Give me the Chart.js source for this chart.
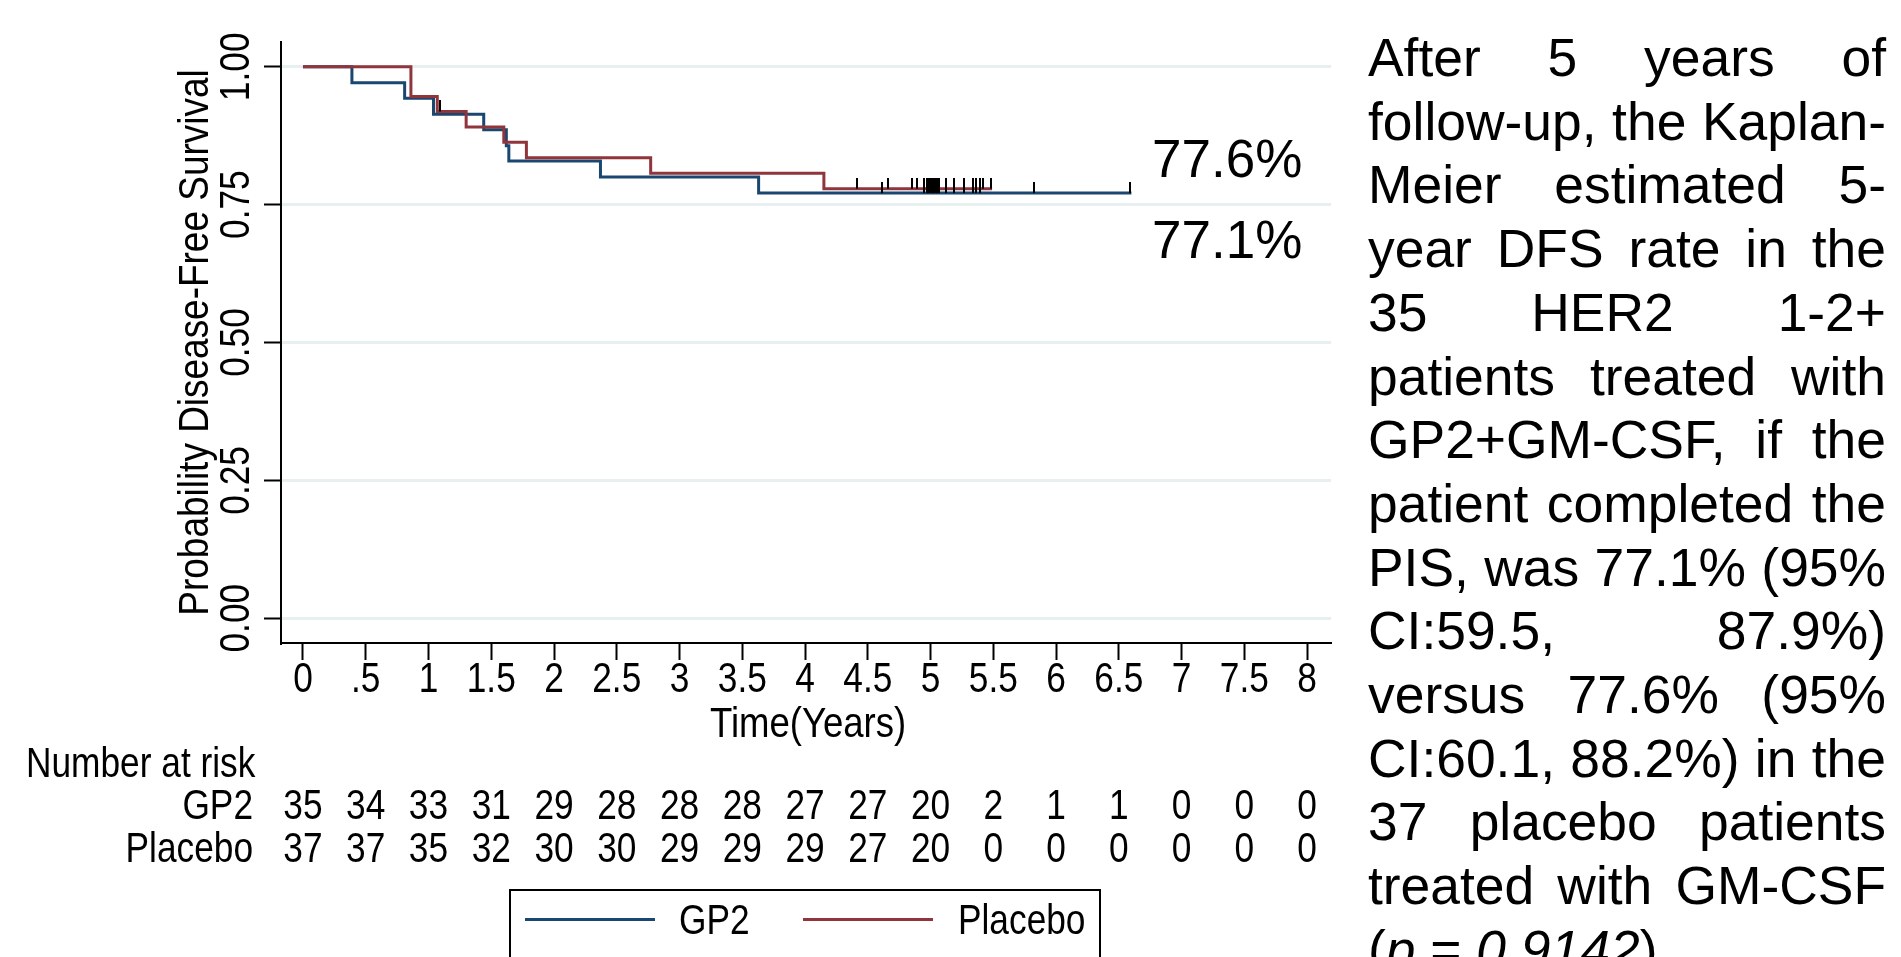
<!DOCTYPE html>
<html>
<head>
<meta charset="utf-8">
<script src="https://cdn.jsdelivr.net/npm/chart.js@4.4.1/dist/chart.umd.min.js"></script>
<style>
html, body { margin:0; padding:0; background:#fff; overflow:hidden; width:1901px; height:957px; }
#km { position:absolute; left:0; top:0; }
.pct { position:absolute; left:1152px; font-family:'Liberation Sans', Arial, sans-serif; font-size:53px; line-height:60px; }
#note { position:absolute; left:1368px; top:26px; width:518px; font-family:'Liberation Sans', Arial, sans-serif; font-size:53.4px; line-height:63.7px; color:#000; }
#note div { text-align:justify; text-align-last:justify; white-space:nowrap; }
#note div.last { text-align-last:left; }
#legend { position:absolute; left:509px; top:889px; width:592px; height:70px; border:2px solid #000; box-sizing:border-box; font-family:'Liberation Sans', Arial, sans-serif; font-size:42px; }
#legend .sw { position:absolute; top:27px; height:3px; width:130px; }
#legend .lb { position:absolute; top:4px; line-height:50px; transform:scaleX(0.84); transform-origin:0 0; }
</style>
</head>
<body>
<canvas id="km" width="1340" height="957"></canvas>
<div class="pct" style="top:129px">77.6%</div>
<div class="pct" style="top:210px">77.1%</div>
<div id="note">
<div>After 5 years of</div>
<div>follow-up, the Kaplan-</div>
<div>Meier estimated 5-</div>
<div>year DFS rate in the</div>
<div>35 HER2 1-2+</div>
<div>patients treated with</div>
<div>GP2+GM-CSF, if the</div>
<div>patient completed the</div>
<div>PIS, was 77.1% (95%</div>
<div>CI:59.5, 87.9%)</div>
<div>versus 77.6% (95%</div>
<div>CI:60.1, 88.2%) in the</div>
<div>37 placebo patients</div>
<div>treated with GM-CSF</div>
<div class="last">(<i>p</i> = <i>0.9142</i>)</div>
</div>
<div id="legend"></div>
<script>
// Kaplan-Meier steps
const gp2Time = [0, 0.39, 0.81, 1.04, 1.44, 1.62, 1.64, 2.37, 3.63, 6.60];
const gp2Surv = [1, 0.971, 0.943, 0.914, 0.886, 0.857, 0.829, 0.800, 0.771, 0.771];
const plcTime = [0, 0.86, 1.07, 1.30, 1.60, 1.78, 2.77, 4.15, 5.49];
const plcSurv = [1, 0.946, 0.919, 0.891, 0.863, 0.835, 0.807, 0.779, 0.779];

// censored observations
const gp2CensTime = [4.61, 4.95, 4.97, 4.98, 4.99, 5.00, 5.01, 5.02, 5.03, 5.04, 5.05, 5.06, 5.07, 5.12, 5.19, 5.27, 5.34, 5.36, 5.39, 5.82, 6.59];
const gp2CensSurv = [0.771, 0.771, 0.771, 0.771, 0.771, 0.771, 0.771, 0.771, 0.771, 0.771, 0.771, 0.771, 0.771, 0.771, 0.771, 0.771, 0.771, 0.771, 0.771, 0.771, 0.771];
const plcCensTime = [1.09, 4.41, 4.66, 4.85, 4.89, 4.95, 4.97, 4.98, 4.99, 5.00, 5.01, 5.02, 5.03, 5.04, 5.05, 5.06, 5.07, 5.12, 5.19, 5.27, 5.34, 5.36, 5.39, 5.42, 5.48];
const plcCensSurv = [0.919, 0.779, 0.779, 0.779, 0.779, 0.779, 0.779, 0.779, 0.779, 0.779, 0.779, 0.779, 0.779, 0.779, 0.779, 0.779, 0.779, 0.779, 0.779, 0.779, 0.779, 0.779, 0.779, 0.779, 0.779];

const xTicks = [0, 0.5, 1, 1.5, 2, 2.5, 3, 3.5, 4, 4.5, 5, 5.5, 6, 6.5, 7, 7.5, 8];
const xTickLabels = ['0', '.5', '1', '1.5', '2', '2.5', '3', '3.5', '4', '4.5', '5', '5.5', '6', '6.5', '7', '7.5', '8'];
const yTicks = [0, 0.25, 0.5, 0.75, 1];
const yTickLabels = ['0.00', '0.25', '0.50', '0.75', '1.00'];

const riskGP2 = [35, 34, 33, 31, 29, 28, 28, 28, 27, 27, 20, 2, 1, 1, 0, 0, 0];
const riskPlacebo = [37, 37, 35, 32, 30, 30, 29, 29, 29, 27, 20, 0, 0, 0, 0, 0, 0];

const groups = ['GP2', 'Placebo'];
const colors = ['#1a476f', '#90353b'];
const FONT = "42px 'Liberation Sans', Arial, sans-serif";
const NARROW = 0.84; // no narrow face installed, squeeze the regular one

function pts(xs, ys) { return xs.map((t, i) => ({ x: t, y: ys[i] })); }

// small vertical tick sitting on top of the curve
function censorMark() {
    const c = document.createElement('canvas');
    c.width = 2; c.height = 22;
    const g = c.getContext('2d');
    g.fillStyle = '#000';
    g.fillRect(0, 0, 2, 11);
    return c;
}
const mark = censorMark();

function narrowText(ctx, txt, x, y, align, rot, sx) {
    ctx.save();
    ctx.translate(x, y);
    if (rot) ctx.rotate(rot);
    ctx.scale(sx || NARROW, 1);
    ctx.textAlign = align;
    ctx.fillText(txt, 0, 0);
    ctx.restore();
}

const textPlugin = {
    id: 'kmText',
    afterDraw(chart) {
        const { ctx } = chart;
        const x = chart.scales.x, y = chart.scales.y;
        ctx.save();
        ctx.fillStyle = '#000';
        ctx.font = FONT;
        ctx.textBaseline = 'middle';
        xTicks.forEach((t, i) => {
            const px = x.getPixelForValue(t);
            narrowText(ctx, xTickLabels[i], px, 680, 'center');
            narrowText(ctx, String(riskGP2[i]), px, 807, 'center');
            narrowText(ctx, String(riskPlacebo[i]), px, 850, 'center');
        });
        narrowText(ctx, 'Time(Years)', (x.getPixelForValue(0) + x.getPixelForValue(8)) / 2 + 3, 725, 'center', 0, 0.87);
        narrowText(ctx, groups[0], 253, 807, 'right');
        narrowText(ctx, groups[1], 253, 850, 'right');
        narrowText(ctx, 'Number at risk', 26, 765, 'left');
        yTicks.forEach((v, i) => {
            narrowText(ctx, yTickLabels[i], 237, y.getPixelForValue(v), 'center', -Math.PI / 2);
        });
        narrowText(ctx, 'Probability Disease-Free Survival', 196, (y.getPixelForValue(0) + y.getPixelForValue(1)) / 2, 'center', -Math.PI / 2, 0.88);
        ctx.restore();
    }
};

const chart = new Chart(document.getElementById('km'), {
    type: 'line',
    data: {
        datasets: [
            { label: groups[0], data: pts(gp2Time, gp2Surv), borderColor: colors[0], borderWidth: 3, stepped: 'before', pointRadius: 0, fill: false, order: 2 },
            { label: groups[1], data: pts(plcTime, plcSurv), borderColor: colors[1], borderWidth: 3, stepped: 'before', pointRadius: 0, fill: false, order: 1 },
            { label: 'cens1', data: pts(gp2CensTime, gp2CensSurv), showLine: false, pointStyle: mark, pointRadius: 6, order: 0 },
            { label: 'cens2', data: pts(plcCensTime, plcCensSurv), showLine: false, pointStyle: mark, pointRadius: 6, order: 0 }
        ]
    },
    options: {
        responsive: false,
        animation: false,
        events: [],
        layout: { padding: { left: 264, right: 9, top: 42, bottom: 297 } },
        plugins: { legend: { display: false }, tooltip: { enabled: false } },
        scales: {
            x: {
                type: 'linear', min: -0.175, max: 8.19,
                afterBuildTicks: s => { s.ticks = xTicks.map(v => ({ value: v })); },
                ticks: { display: false },
                grid: { drawOnChartArea: false, drawTicks: true, tickLength: 17, tickColor: '#000', tickWidth: 2 },
                border: { display: true, color: '#000', width: 2 }
            },
            y: {
                min: -0.045, max: 1.045,
                afterBuildTicks: s => { s.ticks = yTicks.map(v => ({ value: v })); },
                ticks: { display: false },
                grid: { color: '#e8eff1', lineWidth: 3, drawTicks: true, tickLength: 17, tickColor: '#000', tickWidth: 2 },
                border: { display: true, color: '#000', width: 2 }
            }
        }
    },
    plugins: [textPlugin]
});

// legend box built from the chart's datasets
const leg = document.getElementById('legend');
const swLeft = [14, 292], lbLeft = [168, 447];
chart.data.datasets.slice(0, 2).forEach((ds, i) => {
    const sw = document.createElement('div');
    sw.className = 'sw'; sw.style.left = swLeft[i] + 'px'; sw.style.background = ds.borderColor;
    const lb = document.createElement('div');
    lb.className = 'lb'; lb.style.left = lbLeft[i] + 'px'; lb.textContent = ds.label;
    leg.appendChild(sw); leg.appendChild(lb);
});
</script>
</body>
</html>
